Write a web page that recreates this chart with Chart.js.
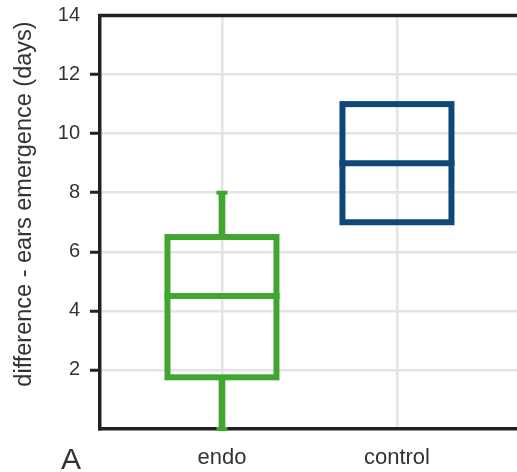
<!DOCTYPE html>
<html>
<head>
<meta charset="utf-8">
<title>Ears emergence difference</title>
<script src="https://cdn.jsdelivr.net/npm/chart.js@4.4.1/dist/chart.umd.min.js"></script>
<style>
  html, body { margin: 0; padding: 0; background: #fff; overflow: hidden; }
  #wrap { width: 517px; height: 472px; }
</style>
</head>
<body>
<div id="wrap"><canvas id="boxChart" width="517" height="472"></canvas></div>
<script>
// values
const categories = ['endo', 'control'];
const whiskerLow = [0, 7];
const quartile1 = [1.75, 7];
const medians = [4.5, 9];
const quartile3 = [6.5, 11];
const whiskerHigh = [8, 11];
const boxColors = ['#41a62f', '#0f4878'];
const yTickValues = [0, 2, 4, 6, 8, 10, 12, 14];
const yTitle = 'difference - ears emergence (days)';
const panelLetter = 'A';

const positions = categories.map((c, i) => i + 1);

const FONT = "'Liberation Sans', Arial, sans-serif";
const BOX_W = 109;
const LINE_W = 6;
const GRID = '#e4e4e4';
const AXIS = '#222';
const TEXT = '#333';
const NONE = 'rgba(0,0,0,0)';

// whisker caps only where the whisker has some length
const caps = [];
const capColors = [];
positions.forEach((x, i) => {
  if (whiskerHigh[i] > quartile3[i]) { caps.push({ x, y: whiskerHigh[i] }); capColors.push(boxColors[i]); }
  if (whiskerLow[i] < quartile1[i]) { caps.push({ x, y: whiskerLow[i] }); capColors.push(boxColors[i]); }
});

// stroke the box outline centred on q1/q3, using the bar elements chart.js laid out
const boxOutline = {
  id: 'boxOutline',
  afterDatasetsDraw(chart) {
    const ctx = chart.ctx;
    const meta = chart.getDatasetMeta(0);
    ctx.save();
    ctx.lineWidth = LINE_W;
    meta.data.forEach((bar, i) => {
      const p = bar.getProps(['x', 'y', 'base', 'width'], true);
      ctx.strokeStyle = boxColors[i];
      ctx.strokeRect(p.x - p.width / 2, Math.min(p.y, p.base), p.width, Math.abs(p.base - p.y));
    });
    ctx.restore();
  }
};

// top frame line, rotated y title and panel letter
const frameAndLabels = {
  id: 'frameAndLabels',
  afterDraw(chart) {
    const { ctx, chartArea } = chart;
    ctx.save();
    ctx.strokeStyle = AXIS;
    ctx.lineWidth = 3.5;
    ctx.beginPath();
    ctx.moveTo(chartArea.left - 1.75, chartArea.top);
    ctx.lineTo(chartArea.right, chartArea.top);
    ctx.stroke();

    ctx.fillStyle = TEXT;
    ctx.font = '23.5px ' + FONT;
    ctx.textAlign = 'center';
    ctx.textBaseline = 'alphabetic';
    ctx.translate(31, 204);
    ctx.rotate(-Math.PI / 2);
    ctx.fillText(yTitle, 0, 0);
    ctx.restore();

    ctx.save();
    ctx.fillStyle = TEXT;
    ctx.font = '30px ' + FONT;
    ctx.textAlign = 'left';
    ctx.textBaseline = 'alphabetic';
    ctx.fillText(panelLetter, 61, 469);
    ctx.restore();
  }
};

const edgeTick = v => v === yTickValues[0] || v === yTickValues[yTickValues.length - 1];

new Chart(document.getElementById('boxChart'), {
  type: 'bar',
  data: {
    datasets: [
      {
        // boxes q1..q3
        type: 'bar',
        data: positions.map((x, i) => ({ x, y: [quartile1[i], quartile3[i]] })),
        backgroundColor: NONE,
        borderWidth: 0,
        barThickness: BOX_W,
        grouped: false
      },
      {
        // medians
        type: 'line',
        showLine: false,
        data: positions.map((x, i) => ({ x, y: medians[i] })),
        pointStyle: 'line',
        pointRadius: (BOX_W + LINE_W) / 2,
        pointBorderWidth: LINE_W,
        pointBorderColor: boxColors,
        clip: false
      },
      {
        // whisker caps
        type: 'line',
        showLine: false,
        data: caps,
        pointStyle: 'line',
        pointRadius: 5.5,
        pointBorderWidth: 4,
        pointBorderColor: capColors,
        clip: false
      },
      {
        // upper whiskers
        type: 'bar',
        data: positions.map((x, i) => ({ x, y: [quartile3[i], whiskerHigh[i]] })),
        backgroundColor: boxColors,
        borderWidth: 0,
        barThickness: 6,
        grouped: false
      },
      {
        // lower whiskers
        type: 'bar',
        data: positions.map((x, i) => ({ x, y: [whiskerLow[i], quartile1[i]] })),
        backgroundColor: boxColors,
        borderWidth: 0,
        barThickness: 6,
        grouped: false
      }
    ]
  },
  options: {
    responsive: false,
    animation: false,
    events: [],
    layout: { autoPadding: false, padding: { top: 15.5, left: 0, right: 0, bottom: 0 } },
    plugins: { legend: { display: false }, tooltip: { enabled: false } },
    scales: {
      x: {
        type: 'linear',
        min: 0.303,
        max: 2.686,
        offset: false,
        afterBuildTicks: s => { s.ticks = positions.map(v => ({ value: v })); },
        afterFit: s => { s.height = 43; s.paddingLeft = 0; s.paddingRight = 0; },
        ticks: {
          callback: v => categories[Math.round(v) - 1] || '',
          font: { family: FONT, size: 22 },
          color: TEXT,
          padding: 16,
          maxRotation: 0,
          autoSkip: false
        },
        grid: { color: GRID, lineWidth: 2.5, drawTicks: false, offset: false },
        border: { color: AXIS, width: 3.5 }
      },
      y: {
        type: 'linear',
        min: 0,
        max: 14,
        afterBuildTicks: s => { s.ticks = yTickValues.map(v => ({ value: v })); },
        afterFit: s => { s.width = 100; s.paddingTop = 0; s.paddingBottom = 0; },
        ticks: {
          callback: v => (v === 0 ? '' : v),
          font: { family: FONT, size: 20 },
          color: TEXT,
          padding: 10
        },
        grid: {
          color: c => (c.tick && edgeTick(c.tick.value) ? NONE : GRID),
          lineWidth: 2.5,
          tickColor: c => (c.tick && edgeTick(c.tick.value) ? NONE : AXIS),
          tickWidth: 3,
          tickLength: 10
        },
        border: { color: AXIS, width: 3.5 }
      }
    }
  },
  plugins: [boxOutline, frameAndLabels]
});
</script>
</body>
</html>
